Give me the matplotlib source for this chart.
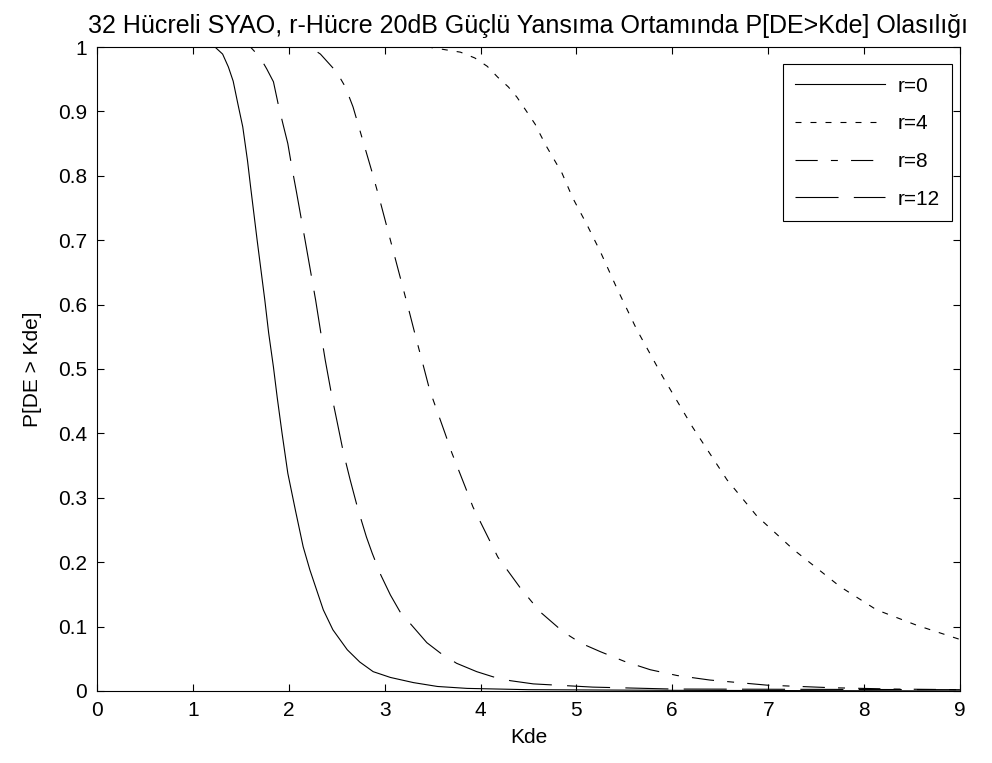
import numpy as np
import matplotlib
matplotlib.use("Agg")
import matplotlib.pyplot as plt
from matplotlib.ticker import FormatStrFormatter

plt.rcParams['font.family'] = ['Liberation Sans', 'DejaVu Sans']
plt.rcParams['lines.scale_dashes'] = False

# r = 0 (solid)
x_r0 = [0.0, 1.23, 1.31, 1.37, 1.42, 1.47, 1.52, 1.57, 1.60, 1.67, 1.75, 1.79,
        1.84, 1.88, 1.93, 1.99, 2.07, 2.15, 2.22, 2.29, 2.36, 2.46, 2.61, 2.74,
        2.88, 3.06, 3.30, 3.55, 3.86, 4.5, 6.0, 9.0]
y_r0 = [1.0, 1.0, 0.989, 0.969, 0.947, 0.911, 0.876, 0.823, 0.785, 0.70, 0.607,
        0.556, 0.503, 0.455, 0.40, 0.338, 0.280, 0.224, 0.188, 0.157, 0.126,
        0.095, 0.064, 0.045, 0.030, 0.021, 0.013, 0.007, 0.004, 0.002, 0.001, 0.0]

# r = 4 (dotted)
x_r4 = [0.0, 3.45, 3.58, 3.79, 3.94, 4.07, 4.18, 4.29, 4.38, 4.48, 4.57, 4.62,
        4.69, 4.85, 4.96, 5.11, 5.25, 5.42, 5.63, 5.90, 6.21, 6.57, 6.88, 7.26,
        7.75, 8.13, 8.55, 9.0]
y_r4 = [1.0, 1.0, 0.997, 0.992, 0.983, 0.970, 0.953, 0.938, 0.922, 0.90, 0.880,
        0.865, 0.845, 0.804, 0.766, 0.724, 0.682, 0.626, 0.561, 0.488, 0.41,
        0.328, 0.272, 0.220, 0.162, 0.126, 0.102, 0.080]

# r = 8 (dash-dot)
x_r8 = [0.0, 2.22, 2.33, 2.50, 2.59, 2.67, 2.77, 2.87, 2.95, 3.06, 3.26, 3.32,
        3.40, 3.47, 3.63, 3.70, 3.84, 3.92, 4.08, 4.18, 4.41, 4.62, 4.86, 5.05,
        5.25, 5.50, 5.77, 6.05, 6.39, 6.99, 7.67, 8.3, 9.0]
y_r8 = [1.0, 1.0, 0.989, 0.961, 0.938, 0.907, 0.856, 0.805, 0.762, 0.700, 0.587,
        0.552, 0.507, 0.467, 0.40, 0.370, 0.317, 0.286, 0.238, 0.208, 0.161,
        0.123, 0.092, 0.074, 0.061, 0.046, 0.033, 0.024, 0.017, 0.009, 0.005,
        0.003, 0.002]

# r = 12 (dashed)
x_r12 = [0.0, 1.60, 1.70, 1.77, 1.84, 1.89, 1.94, 1.99, 2.03, 2.08, 2.17, 2.28,
         2.33, 2.38, 2.45, 2.50, 2.57, 2.64, 2.72, 2.81, 2.87, 2.96, 3.06, 3.16,
         3.30, 3.44, 3.58, 3.75, 3.96, 4.13, 4.31, 4.55, 5.17, 6.0, 9.0]
y_r12 = [1.0, 1.0, 0.984, 0.966, 0.946, 0.911, 0.880, 0.850, 0.815, 0.775, 0.70,
         0.607, 0.560, 0.514, 0.457, 0.421, 0.370, 0.328, 0.283, 0.239, 0.214,
         0.180, 0.149, 0.123, 0.099, 0.075, 0.059, 0.043, 0.030, 0.022, 0.016,
         0.011, 0.006, 0.003, 0.002]

fig = plt.figure(figsize=(9.92, 7.63), dpi=100)
ax = fig.add_axes([0.0978, 0.0944, 0.8699, 0.844])

lw = 0.8
ax.plot(x_r0, y_r0, color='k', lw=lw, linestyle='-', label='r=0')
ax.plot(x_r4, y_r4, color='k', lw=lw, linestyle=(0, (4.3, 6.5)), label='r=4')
ax.plot(x_r8, y_r8, color='k', lw=lw, linestyle=(0, (16, 9.5, 5, 9.5)), label='r=8')
ax.plot(x_r12, y_r12, color='k', lw=lw, linestyle=(0, (31, 11)), label='r=12')

ax.set_xlim(0, 9)
ax.set_ylim(0, 1)
ax.set_xticks(np.arange(0, 10, 1))
ax.set_yticks(np.arange(0, 1.01, 0.1))
ax.yaxis.set_major_formatter(FormatStrFormatter('%g'))
ax.tick_params(direction='in', top=True, right=True, length=5, width=0.8,
               labelsize=15, pad=7)
for s in ax.spines.values():
    s.set_linewidth(0.8)

ax.set_xlabel('Kde', fontsize=15, labelpad=6)
ax.set_ylabel('P[DE > Kde]', fontsize=15, labelpad=12)
ax.set_title('32 Hücreli SYAO, r-Hücre 20dB Güçlü Yansıma Ortamında P[DE>Kde] Olasılığı',
             fontsize=18, pad=10)

leg = ax.legend(loc='upper right', bbox_to_anchor=(0.9907, 0.9736),
                borderaxespad=0, fontsize=15, fancybox=False, framealpha=1,
                edgecolor='k', handlelength=4.3, handletextpad=0.6,
                borderpad=0.6, labelspacing=0.9)
leg.get_frame().set_linewidth(0.8)

fig.savefig('out.png', dpi=100)
